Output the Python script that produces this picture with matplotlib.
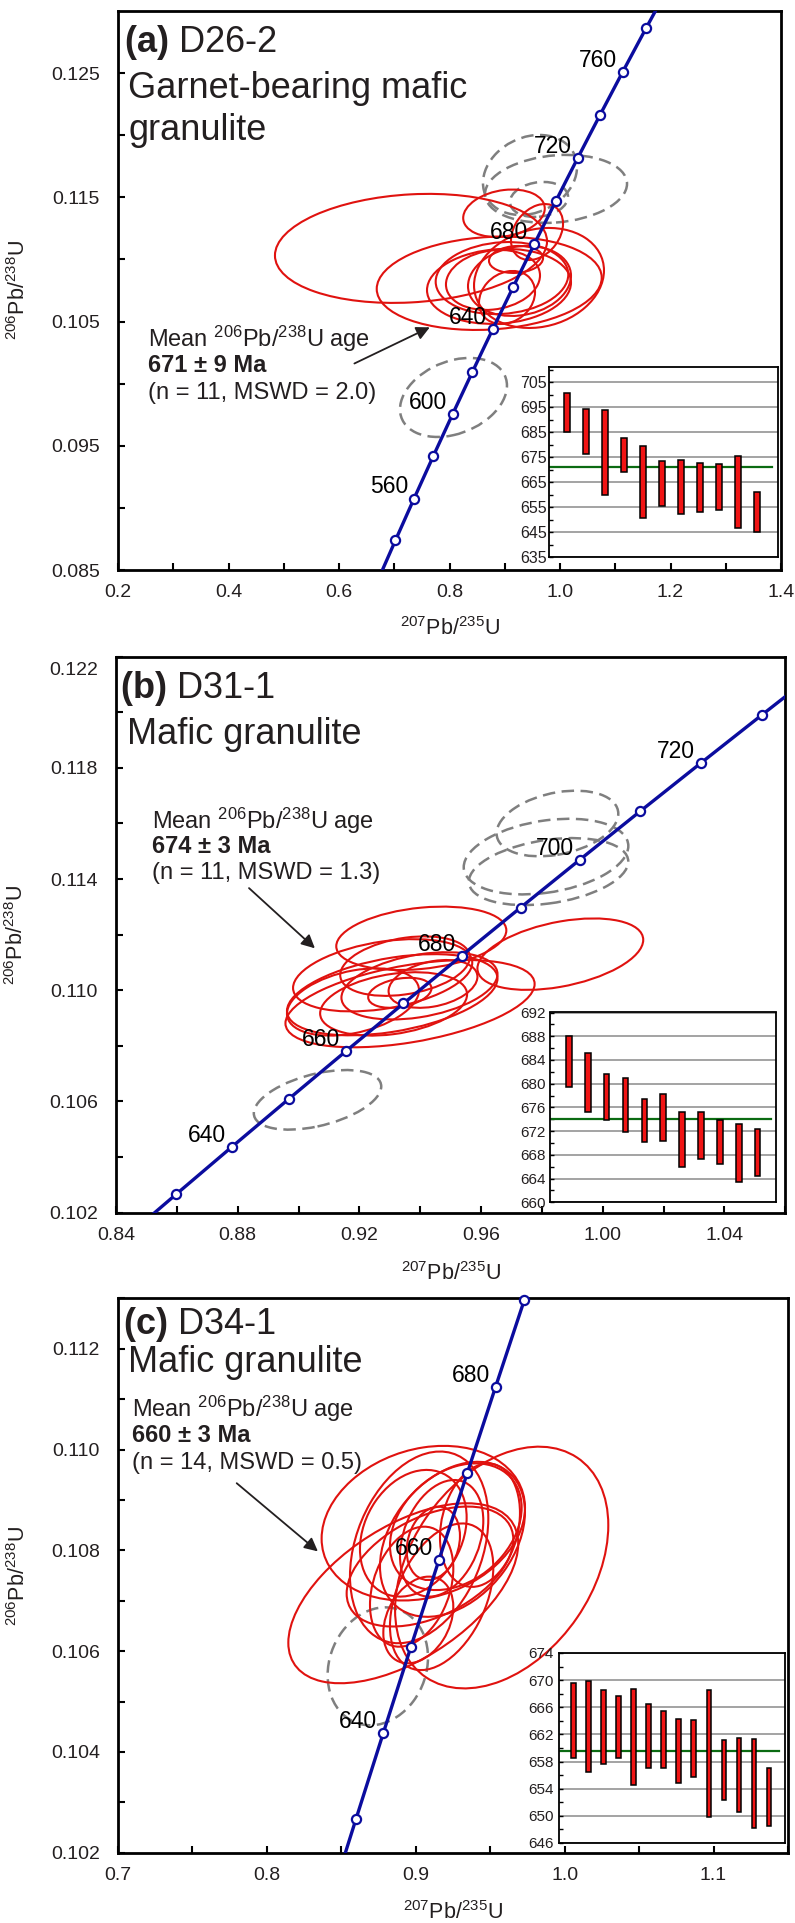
import numpy as np
import matplotlib
matplotlib.use("Agg")
import matplotlib.pyplot as plt
from matplotlib.patches import Circle
from matplotlib.transforms import Affine2D, ScaledTranslation

plt.rcParams['font.family'] = ['Liberation Sans', 'DejaVu Sans']
plt.rcParams['mathtext.fontset'] = 'custom'
plt.rcParams['mathtext.rm'] = 'Liberation Sans'
plt.rcParams['mathtext.it'] = 'Liberation Sans:italic'
plt.rcParams['mathtext.bf'] = 'Liberation Sans:bold'

# ---------------- data ----------------
# Concordia reference points: age (Ma), 207Pb/235U, 206Pb/238U
conc_age = [520, 540, 560, 580, 600, 620, 630, 640, 650, 660, 670,
            680, 690, 700, 710, 720, 730, 740, 760, 780, 800]
conc_x = [0.66883, 0.70203, 0.73588, 0.77041, 0.80563, 0.84155, 0.85978,
          0.87818, 0.89677, 0.91554, 0.93450, 0.95364, 0.97298, 0.99251,
          1.01222, 1.03214, 1.05226, 1.07256, 1.11379, 1.15584, 1.19873]
conc_y = [0.08401, 0.087376, 0.090755, 0.094144, 0.097544, 0.100954, 0.102664,
          0.104376, 0.10609, 0.107807, 0.109527, 0.111249, 0.112975, 0.114702,
          0.116433, 0.118166, 0.119902, 0.12164, 0.125126, 0.128622, 0.132129]

# ---- Panel (a) D26-2 ----
a_marker_ages = [540, 560, 580, 600, 620, 640, 660, 680, 700, 720, 740, 760, 780]
a_label_ages = [560, 600, 640, 680, 720, 760]
a_red_x = [0.7303, 0.8719, 0.8986, 0.9584, 0.8896, 0.8950, 0.8787, 0.9041, 0.9204, 0.9620, 0.9267]
a_red_sx = [0.2462, 0.2036, 0.0738, 0.0471, 0.1303, 0.1200, 0.0851, 0.0507, 0.0489, 0.1176, 0.0932]
a_red_y = [0.11089, 0.10808, 0.11372, 0.11221, 0.10783, 0.10850, 0.10835, 0.10694, 0.11000, 0.10851, 0.10827]
a_red_sy = [0.004388, 0.003756, 0.001908, 0.002254, 0.00302, 0.0029, 0.002415, 0.002134, 0.001087, 0.004026, 0.002818]
a_red_rho = [0.13, 0.12, 0.20, 0.30, 0.10, 0.10, 0.15, 0.20, 0.10, 0.15, 0.15]
a_gray_x = [0.9457, 0.9928, 0.9620, 0.8072]
a_gray_sx = [0.0851, 0.1285, 0.0525, 0.0968]
a_gray_y = [0.1168, 0.11568, 0.11483, 0.09889]
a_gray_sy = [0.00322, 0.002738, 0.001409, 0.00318]
a_gray_rho = [0.20, 0.15, 0.15, 0.30]
a_age_lo = [685.1, 676.4, 660.0, 669.0, 650.5, 655.4, 652.4, 653.0, 653.7, 646.8, 645.0]
a_age_hi = [700.5, 694.3, 693.7, 682.7, 679.5, 673.5, 673.9, 672.7, 672.4, 675.4, 661.0]
a_mean = 671
a_xticks = [0.2, 0.4, 0.6, 0.8, 1.0, 1.2, 1.4]
a_xminor = [0.3, 0.5, 0.7, 0.9, 1.1, 1.3]
a_yticks = [0.085, 0.095, 0.105, 0.115, 0.125]
a_yminor = [0.090, 0.100, 0.110, 0.120]
a_inset_ticks = [635, 645, 655, 665, 675, 685, 695, 705]
a_inset_minor = [640, 650, 660, 670, 680, 690, 700, 710]

# ---- Panel (b) D31-1 ----
b_marker_ages = [630, 640, 650, 660, 670, 680, 690, 700, 710, 720, 730]
b_label_ages = [640, 660, 680, 700, 720]
b_red_x = [0.94035, 0.98605, 0.92765, 0.9308, 0.93665, 0.9179, 0.93125, 0.93975, 0.9333, 0.9442, 0.9350]
b_red_sx = [0.02795, 0.02725, 0.02945, 0.0346, 0.04095, 0.0217, 0.02415, 0.02565, 0.0104, 0.0146, 0.0213]
b_red_y = [0.11187, 0.1113, 0.11054, 0.10984, 0.10952, 0.10958, 0.10951, 0.11016, 0.10991, 0.11023, 0.11087]
b_red_sy = [0.00114, 0.001285, 0.0013, 0.00146, 0.00157, 0.00121, 0.00114, 0.00121, 0.00054, 0.00086, 0.00107]
b_red_rho = [0.25, 0.40, 0.35, 0.40, 0.45, 0.35, 0.30, 0.35, 0.30, 0.30, 0.30]
b_gray_x = [0.9851, 0.98135, 0.98218, 0.90624]
b_gray_sx = [0.0200, 0.02705, 0.0262, 0.02094]
b_gray_y = [0.1160, 0.11481, 0.11427, 0.10606]
b_gray_sy = [0.00118, 0.00136, 0.001205, 0.001072]
b_gray_rho = [0.30, 0.28, 0.30, 0.45]
b_age_lo = [679.4, 675.3, 673.9, 671.8, 670.1, 670.3, 666.0, 667.3, 666.4, 663.5, 664.4]
b_age_hi = [688.0, 685.1, 681.6, 680.9, 677.4, 678.2, 675.2, 675.3, 673.9, 673.2, 672.4]
b_mean = 674
b_xticks = [0.84, 0.88, 0.92, 0.96, 1.00, 1.04]
b_xminor = [0.86, 0.90, 0.94, 0.98, 1.02, 1.06]
b_yticks = [0.102, 0.106, 0.110, 0.114, 0.118, 0.122]
b_yminor = [0.104, 0.108, 0.112, 0.116, 0.120]
b_inset_ticks = [660, 664, 668, 672, 676, 680, 684, 688, 692]
b_inset_minor = [662, 666, 670, 674, 678, 682, 686, 690]

# ---- Panel (c) D34-1 ----
c_marker_ages = [630, 640, 650, 660, 670, 680, 690]
c_label_ages = [640, 660, 680]
c_red_x = [0.9577, 0.8916, 0.90506, 0.90226, 0.92465, 0.92689, 0.91737, 0.89723,
           0.91737, 0.91178, 0.90954, 0.89834, 0.9017, 0.94312]
c_red_sx = [0.0716, 0.0772, 0.0683, 0.04645, 0.04869, 0.04421, 0.0347, 0.02798,
            0.02798, 0.0179, 0.05597, 0.03582, 0.0235, 0.02686]
c_red_y = [0.10766, 0.10715, 0.10854, 0.10806, 0.10822, 0.10847, 0.10708, 0.10728,
           0.10824, 0.10814, 0.10768, 0.10834, 0.10662, 0.1085]
c_red_sy = [0.002398, 0.001786, 0.001534, 0.001902, 0.001538, 0.001257, 0.001455, 0.001191,
            0.001157, 0.000728, 0.00119, 0.001257, 0.00086, 0.001224]
c_red_rho = [0.35, 0.55, 0.20, 0.30, 0.35, 0.30, 0.40, 0.30, 0.30, 0.20, 0.45, 0.25, 0.30, 0.20]
c_gray_x = [0.8745]
c_gray_sx = [0.0337]
c_gray_y = [0.1057]
c_gray_sy = [0.00117]
c_gray_rho = [0.15]
c_age_lo = [658.5, 656.5, 657.6, 658.5, 654.5, 657.1, 657.1, 654.8, 655.8, 649.9, 652.4, 650.5, 648.2, 648.5]
c_age_hi = [669.6, 669.9, 668.5, 667.7, 668.7, 666.5, 665.5, 664.3, 664.1, 668.5, 661.2, 661.4, 661.3, 657.0]
c_mean = 659.6
c_xticks = [0.7, 0.8, 0.9, 1.0, 1.1]
c_xminor = [0.75, 0.85, 0.95, 1.05, 1.15]
c_yticks = [0.102, 0.104, 0.106, 0.108, 0.110, 0.112]
c_yminor = [0.103, 0.105, 0.107, 0.109, 0.111, 0.113]
c_inset_ticks = [646, 650, 654, 658, 662, 666, 670, 674]
c_inset_minor = [648, 652, 656, 660, 664, 668, 672]

# ---------------- style ----------------
W, H = 795, 1923
TXT = '#231f20'
RED = '#e0120f'
BLUE = '#0b0c9e'
GRAY = '#7f7f7f'
GREEN = '#0b6b12'
BARRED = '#f01414'

fig = plt.figure(figsize=(W / 100, H / 100), dpi=100)


def px_axes(l, t, r, b):
    return fig.add_axes([l / W, 1 - b / H, (r - l) / W, (b - t) / H])


def ftext(px, py, s, **kw):
    kw.setdefault('color', TXT)
    fig.text(px / W, 1 - py / H, s, **kw)


def ellipse(ax, cx, sx, cy, sy, rho, dashed=False):
    m = np.array([[sx, 0.0, cx],
                  [rho * sy, sy * np.sqrt(1 - rho ** 2), cy],
                  [0.0, 0.0, 1.0]])
    if dashed:
        p = Circle((0, 0), 1, transform=Affine2D(m) + ax.transData, fill=False,
                   edgecolor=GRAY, lw=1.8, linestyle=(0, (5.0, 2.6)), zorder=2)
    else:
        p = Circle((0, 0), 1, transform=Affine2D(m) + ax.transData, fill=False,
                   edgecolor=RED, lw=1.5, zorder=3)
    ax.add_patch(p)


def main_panel(ax, xlim, ylim, xt, xm, yt, ym, xfmt, yfmt,
               rx, rsx, ry, rsy, rr, gx, gsx, gy, gsy, gr, mages, lages):
    ax.set_xlim(xlim)
    ax.set_ylim(ylim)
    for i in range(len(gx)):
        ellipse(ax, gx[i], gsx[i], gy[i], gsy[i], gr[i], dashed=True)
    for i in range(len(rx)):
        ellipse(ax, rx[i], rsx[i], ry[i], rsy[i], rr[i])
    ax.plot(conc_x, conc_y, color=BLUE, lw=2.4, zorder=4, solid_capstyle='butt')
    idx = [conc_age.index(a) for a in mages]
    ax.plot([conc_x[i] for i in idx], [conc_y[i] for i in idx], 'o', ms=6.6,
            mfc='white', mec=BLUE, mew=1.6, zorder=5, clip_on=False)
    for a in lages:
        i = conc_age.index(a)
        ax.annotate(str(a), (conc_x[i], conc_y[i]), xytext=(-18, 8.3),
                    textcoords='offset points', ha='center', va='center',
                    fontsize=16.5, color='black', zorder=6)
    ax.set_xticks(xt)
    ax.set_xticklabels([xfmt.format(v) for v in xt])
    ax.set_xticks(xm, minor=True)
    ax.set_yticks(yt)
    ax.set_yticklabels([yfmt.format(v) for v in yt])
    ax.set_yticks(ym, minor=True)
    ax.tick_params(which='both', direction='in', length=5, width=1.5,
                   top=False, right=False, labelsize=14, labelcolor=TXT)
    ax.tick_params(axis='x', which='both', pad=10)
    ax.tick_params(axis='y', which='both', pad=13)
    for s in ax.spines.values():
        s.set_linewidth(2.0)
    ax.set_xlabel(r'$^{207}$Pb/$^{235}$U', fontsize=15.5, color=TXT)
    ax.set_ylabel(r'$^{206}$Pb/$^{238}$U', fontsize=15.5, color=TXT)
    ax.xaxis.set_label_coords(0.5, -0.084)
    ax.yaxis.set_label_coords(-0.132, 0.5)


def inset_panel(ax, lo, hi, mean, ylim, xlim, ticks, minor, lsize, pad):
    ax.set_facecolor('white')
    ax.set_xlim(xlim)
    ax.set_ylim(ylim)
    pos = list(range(1, len(lo) + 1))
    ax.bar(pos, [h - l for l, h in zip(lo, hi)], bottom=lo, width=0.3,
           color=BARRED, edgecolor='black', lw=1.1, zorder=3)
    ax.axhline(mean, xmin=0.0, xmax=0.975, color=GREEN, lw=1.6, zorder=2)
    ax.set_yticks(ticks)
    ax.set_yticklabels([str(t) for t in ticks])
    ax.set_yticks(minor, minor=True)
    ax.set_xticks([])
    ax.yaxis.grid(True, which='major', color='#8a8a8a', lw=1.1, zorder=1)
    ax.set_axisbelow(True)
    ax.tick_params(axis='y', which='both', direction='in', length=3, width=1,
                   labelsize=lsize, labelcolor=TXT, pad=pad)
    for s in ax.spines.values():
        s.set_linewidth(1.3)


# ---------------- panel (a) ----------------
axa = px_axes(118, 11, 781, 570)
main_panel(axa, (0.2, 1.4), (0.085, 0.130), a_xticks, a_xminor, a_yticks, a_yminor,
           '{:.1f}', '{:.3f}', a_red_x, a_red_sx, a_red_y, a_red_sy, a_red_rho,
           a_gray_x, a_gray_sx, a_gray_y, a_gray_sy, a_gray_rho,
           a_marker_ages, a_label_ages)
ftext(123.5, 43, r'$\mathbf{(a)}$ D26-2', fontsize=26, va='center', ha='left')
ftext(128.5, 89, 'Garnet-bearing mafic', fontsize=26, va='center', ha='left')
ftext(128.5, 130, 'granulite', fontsize=26, va='center', ha='left')
ftext(148, 339, r'Mean $^{206}$Pb/$^{238}$U age', fontsize=17, va='center', ha='left')
ftext(148, 365.5, '671 ± 9 Ma', fontsize=17, fontweight='bold', va='center', ha='left')
ftext(148, 393.5, '(n = 11, MSWD = 2.0)', fontsize=17, va='center', ha='left')
axa.annotate('', xy=(429.8 / W, 1 - 327.3 / H), xytext=(354.4 / W, 1 - 363.5 / H),
             xycoords='figure fraction', textcoords='figure fraction',
             arrowprops=dict(arrowstyle='-|>', mutation_scale=20, lw=1.3,
                             color=TXT, shrinkA=0, shrinkB=0), zorder=7)
ia = px_axes(549, 367, 778, 557)
inset_panel(ia, a_age_lo, a_age_hi, a_mean, (635, 711), (0.05, 12.1),
            a_inset_ticks, a_inset_minor, 11.5, 1.5)

# ---------------- panel (b) ----------------
axb = px_axes(116, 656.7, 785.3, 1212.7)
main_panel(axb, (0.84, 1.06), (0.102, 0.122), b_xticks, b_xminor, b_yticks, b_yminor,
           '{:.2f}', '{:.3f}', b_red_x, b_red_sx, b_red_y, b_red_sy, b_red_rho,
           b_gray_x, b_gray_sx, b_gray_y, b_gray_sy, b_gray_rho,
           b_marker_ages, b_label_ages)
axb.xaxis.set_label_coords(0.5, -0.089)
toplab = axb.get_yticklabels()[-1]
toplab.set_transform(toplab.get_transform() +
                     ScaledTranslation(0, -0.12, fig.dpi_scale_trans))
ftext(120, 688, r'$\mathbf{(b)}$ D31-1', fontsize=26, va='center', ha='left')
ftext(127, 735, 'Mafic granulite', fontsize=26, va='center', ha='left')
ftext(152, 821, r'Mean $^{206}$Pb/$^{238}$U age', fontsize=17, va='center', ha='left')
ftext(152, 846.5, '674 ± 3 Ma', fontsize=17, fontweight='bold', va='center', ha='left')
ftext(152, 873.5, '(n = 11, MSWD = 1.3)', fontsize=17, va='center', ha='left')
axb.annotate('', xy=(314.9 / W, 1 - 948.3 / H), xytext=(249 / W, 1 - 888.1 / H),
             xycoords='figure fraction', textcoords='figure fraction',
             arrowprops=dict(arrowstyle='-|>', mutation_scale=20, lw=1.3,
                             color=TXT, shrinkA=0, shrinkB=0), zorder=7)
ib = px_axes(550, 1012.5, 776.5, 1202.3)
inset_panel(ib, b_age_lo, b_age_hi, b_mean, (660, 692), (0.0, 12.0),
            b_inset_ticks, b_inset_minor, 11, 3)

# ---------------- panel (c) ----------------
axc = px_axes(118, 1298.4, 788, 1852.8)
main_panel(axc, (0.7, 1.15), (0.102, 0.113), c_xticks, c_xminor, c_yticks, c_yminor,
           '{:.1f}', '{:.3f}', c_red_x, c_red_sx, c_red_y, c_red_sy, c_red_rho,
           c_gray_x, c_gray_sx, c_gray_y, c_gray_sy, c_gray_rho,
           c_marker_ages, c_label_ages)
axc.xaxis.set_label_coords(0.5, -0.087)
ftext(123, 1324, r'$\mathbf{(c)}$ D34-1', fontsize=26, va='center', ha='left')
ftext(128, 1363, 'Mafic granulite', fontsize=26, va='center', ha='left')
ftext(132, 1408.5, r'Mean $^{206}$Pb/$^{238}$U age', fontsize=17, va='center', ha='left')
ftext(132, 1435.5, '660 ± 3 Ma', fontsize=17, fontweight='bold', va='center', ha='left')
ftext(132, 1463, '(n = 14, MSWD = 0.5)', fontsize=17, va='center', ha='left')
axc.annotate('', xy=(317.9 / W, 1 - 1551.4 / H), xytext=(236.7 / W, 1 - 1483.2 / H),
             xycoords='figure fraction', textcoords='figure fraction',
             arrowprops=dict(arrowstyle='-|>', mutation_scale=20, lw=1.3,
                             color=TXT, shrinkA=0, shrinkB=0), zorder=7)
ic = px_axes(559, 1653, 785, 1843)
inset_panel(ic, c_age_lo, c_age_hi, c_mean, (646, 674), (0.05, 15.06),
            c_inset_ticks, c_inset_minor, 11, 4)

fig.savefig('out.png', dpi=100, facecolor='white')
